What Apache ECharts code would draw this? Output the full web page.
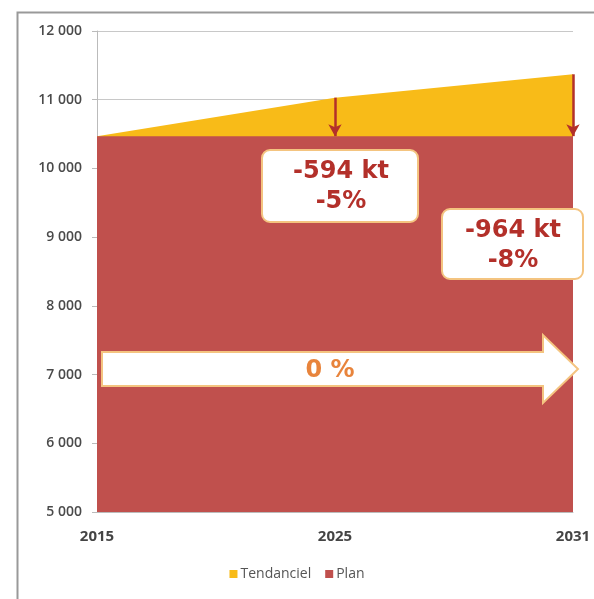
<!DOCTYPE html>
<html><head><meta charset="utf-8">
<script src="https://cdn.jsdelivr.net/npm/echarts@6/dist/echarts.min.js"></script>
<style>html,body{margin:0;padding:0;background:#fff}#c{width:594px;height:599px}</style>
</head><body><div id="c"></div>
<script>
const categories = ['2015', '2025', '2031'];
const tendanciel = [10470, 11030, 11370];
const plan = [10470, 10470, 10470];
const yTicks = [5000, 6000, 7000, 8000, 9000, 10000, 11000, 12000];
const gapLabels = ['-594 kt\n-5%', '-964 kt\n-8%'];
const flatLabel = '0 %';

const chart = echarts.init(document.getElementById('c'), null, {renderer: 'canvas'});
const font = 'Open Sans';
const red = '#c0504d', gold = '#f8bb18', dark = '#b3302a', orange = '#e8843c', border = '#f4c480';
const annFont = 'bold 24px "DejaVu Sans"';

chart.setOption({
  animation: false,
  backgroundColor: '#fff',
  grid: {left: 97, right: 21, top: 31, bottom: 87},
  legend: {
    bottom: 13, left: 'center', itemWidth: 8, itemHeight: 8, itemGap: 14,
    icon: 'rect',
    textStyle: {fontFamily: font, fontSize: 14, color: '#555', padding: [0, 0, 0, -2]},
    data: ['Tendanciel', 'Plan']
  },
  xAxis: {
    type: 'category', data: categories, boundaryGap: false,
    axisLine: {show: true, lineStyle: {color: '#bbb'}},
    axisTick: {show: false},
    axisLabel: {fontFamily: font, fontSize: 15, color: '#444', margin: 17, fontWeight: 'bold'}
  },
  yAxis: {
    type: 'value', min: yTicks[0], max: yTicks[yTicks.length - 1], interval: 1000,
    axisLine: {show: true, lineStyle: {color: '#bbb'}},
    axisTick: {show: true, length: 5, lineStyle: {color: '#bbb'}},
    splitLine: {show: true, lineStyle: {color: '#c8c8c8'}},
    axisLabel: {
      fontFamily: font, fontSize: 14, color: '#4a4a4a', margin: 15, fontWeight: 600,
      formatter: v => String(v).replace(/\B(?=(\d{3})+(?!\d))/g, ' ')
    }
  },
  series: [
    {
      name: 'Tendanciel', type: 'line', data: tendanciel, symbol: 'none',
      lineStyle: {width: 0}, itemStyle: {color: gold},
      areaStyle: {color: gold, opacity: 1}, z: 2,
      markLine: {
        silent: true, symbol: ['none', 'arrow'], symbolSize: [10, 12],
        lineStyle: {color: dark, width: 2.5, type: 'solid'},
        label: {show: false},
        data: [
          [{coord: [categories[1], tendanciel[1]]}, {coord: [categories[1], plan[1]]}],
          [{coord: [categories[2], tendanciel[2]]}, {coord: [categories[2], plan[2]]}]
        ]
      }
    },
    {
      name: 'Plan', type: 'line', data: plan, symbol: 'none',
      lineStyle: {width: 0}, itemStyle: {color: red},
      areaStyle: {color: red, opacity: 1}, z: 3
    }
  ],
  graphic: [
    {type: 'rect', left: 15, top: 10, silent: true, z: -10,
     shape: {x: 0, y: 0, width: 600, height: 600}, style: {fill: 'none', stroke: '#999', lineWidth: 2}},
    {type: 'rect', zlevel: 1, z: 100, x: 262, y: 150, shape: {width: 156, height: 72, r: 8}, style: {fill: '#fff', stroke: border, lineWidth: 2}},
    {type: 'text', zlevel: 1, z: 101, x: 341, y: 187, style: {text: gapLabels[0], fill: dark, font: annFont, align: 'center', verticalAlign: 'middle', lineHeight: 30}},
    {type: 'rect', zlevel: 1, z: 100, x: 442, y: 209, shape: {width: 141, height: 70, r: 8}, style: {fill: '#fff', stroke: border, lineWidth: 2}},
    {type: 'text', zlevel: 1, z: 101, x: 513, y: 246, style: {text: gapLabels[1], fill: dark, font: annFont, align: 'center', verticalAlign: 'middle', lineHeight: 30}},
    {type: 'polygon', zlevel: 1, z: 100, x: 102, y: 335, shape: {points: [[0, 17], [441, 17], [441, 0], [476, 34], [441, 68], [441, 51], [0, 51]]},
     style: {fill: '#fff', stroke: border, lineWidth: 2}},
    {type: 'text', zlevel: 1, z: 101, x: 330, y: 371, style: {text: flatLabel, fill: orange, font: annFont, align: 'center', verticalAlign: 'middle'}}
  ]
});
</script></body></html>
